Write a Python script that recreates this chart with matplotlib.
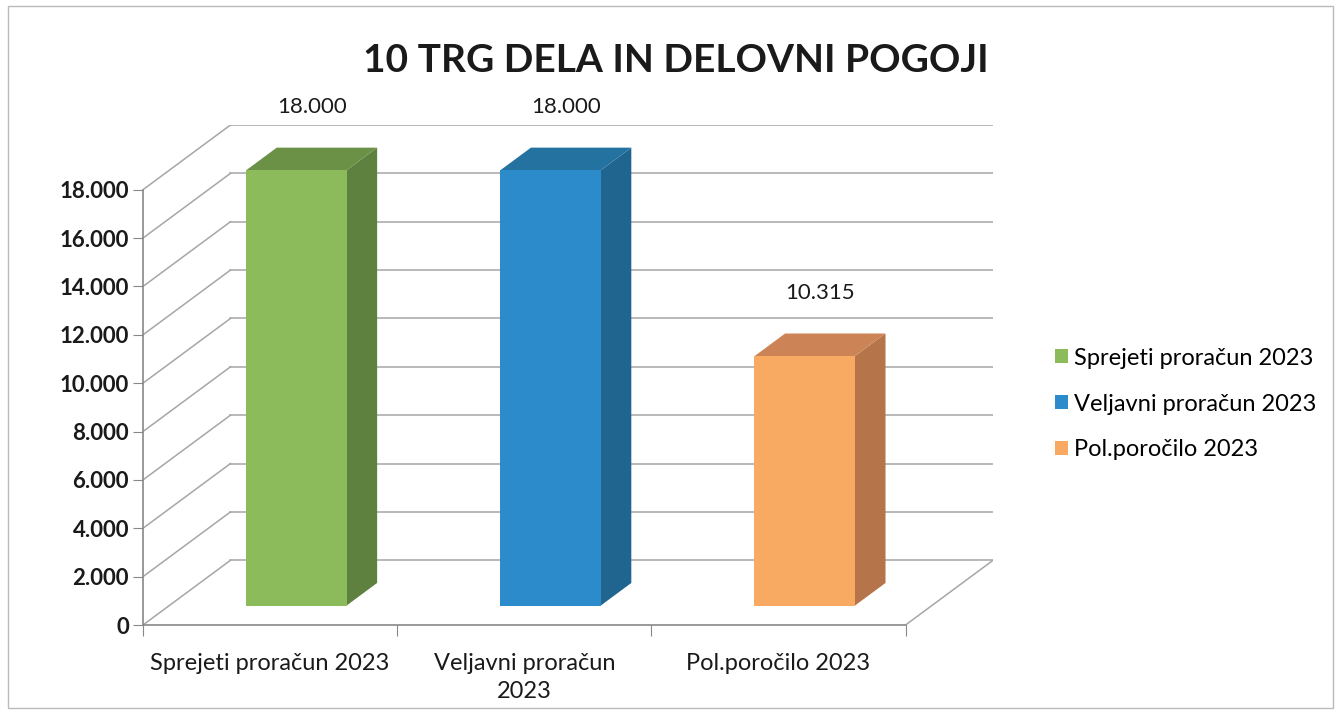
import matplotlib.pyplot as plt
from matplotlib.patches import Polygon, Rectangle, Patch

categories = ['Sprejeti proračun 2023', 'Veljavni proračun\n2023', 'Pol.poročilo 2023']
series = ['Sprejeti proračun 2023', 'Veljavni proračun 2023', 'Pol.poročilo 2023']
values = [18000, 18000, 10315]
front_cols = ['#8cbb5c', '#2c8ccb', '#f9aa62']
top_cols = ['#6b9147', '#24729f', '#cc8456']
side_cols = ['#5e8140', '#1f6590', '#b5744a']
yticks = list(range(0, 18001, 2000))

plt.rcParams['font.family'] = ['Lato', 'DejaVu Sans']


def fmt(v):
    return '{:,}'.format(int(v)).replace(',', '.')


fig = plt.figure(figsize=(13.41, 7.14), dpi=100)
ax = fig.add_axes([143 / 1341, 1 - 625 / 714, (993 - 143) / 1341, (625 - 125) / 714])

# depth of the box (in data units)
ox = 0.344
oy = 2675
ymax = max(yticks)
ax.set_xlim(0, len(categories) + ox)
ax.set_ylim(0, ymax + oy)

grid = '#a6a6a6'
# back wall + side wall gridlines
for v in yticks:
    ax.plot([ox, len(categories) + ox], [v + oy, v + oy], color=grid, lw=1.1, zorder=1)
    ax.plot([0, ox], [v, v + oy], color=grid, lw=1.1, zorder=1)
# floor
n = len(categories)
ax.plot([n, n + ox], [0, oy], color=grid, lw=1.1, zorder=1)

# bars
w = 0.395
d0, d1 = 0.30, 0.65
for i, v in enumerate(values):
    xl = i + 0.5 - w / 2
    fx0, fx1 = xl + d0 * ox, xl + w + d0 * ox
    bx0, bx1 = xl + d1 * ox, xl + w + d1 * ox
    by0, by1 = d0 * oy, d1 * oy
    side = Polygon([(fx1, by0), (bx1, by1), (bx1, v + by1), (fx1, v + by0)],
                   closed=True, facecolor=side_cols[i], edgecolor='none', zorder=3)
    top = Polygon([(fx0, v + by0), (fx1, v + by0), (bx1, v + by1), (bx0, v + by1)],
                  closed=True, facecolor=top_cols[i], edgecolor='none', zorder=3)
    ax.add_patch(side)
    ax.add_patch(top)
    ax.bar(fx0, v, width=w, bottom=by0, align='edge', color=front_cols[i], zorder=4)
    ax.annotate(fmt(v), (xl + w / 2 + (d0 + d1) / 2 * ox, v + by1),
                xytext=(0, 29), textcoords='offset points', ha='center', va='center',
                fontsize=16, color='#1a1a1a', annotation_clip=False)

# axes
for s in ['top', 'right']:
    ax.spines[s].set_visible(False)
ax.spines['left'].set_bounds(0, ymax)
ax.spines['bottom'].set_bounds(0, n)
for s in ['left', 'bottom']:
    ax.spines[s].set_color('#888888')
    ax.spines[s].set_linewidth(1.2)
ax.set_yticks(yticks)
ax.set_yticklabels([fmt(t) for t in yticks], fontsize=16, fontweight='bold', color='#1a1a1a')
ax.set_xticks(range(n + 1))
ax.set_xticklabels([])
ax.set_xticks([i + 0.5 for i in range(n)], minor=True)
ax.set_xticklabels(categories, minor=True, fontsize=17, color='#1a1a1a', linespacing=1.4)
ax.tick_params(axis='x', which='minor', length=0, pad=20)
ax.tick_params(axis='x', which='major', length=8, color='#888888')
ax.tick_params(axis='y', length=7, color='#888888', pad=3)

fig.text(676 / 1341, 1 - 60 / 714, '10 TRG DELA IN DELOVNI POGOJI', ha='center', va='center',
         fontsize=28, fontweight='bold', color='#1a1a1a')

handles = [Patch(facecolor=c, edgecolor='none') for c in front_cols]
fig.legend(handles, series, loc='center left', bbox_to_anchor=(1034 / 1341, 1 - 404 / 714),
           frameon=False, fontsize=17, handlelength=0.55, handleheight=0.55,
           handletextpad=0.25, labelspacing=1.05)

fig.patches.append(Rectangle((8 / 1341, 6 / 714), 1 - 16 / 1341, 1 - 12 / 714,
                             transform=fig.transFigure, fill=False,
                             edgecolor='#bbbbbb', lw=1.0))

fig.savefig('out.png', dpi=100)
